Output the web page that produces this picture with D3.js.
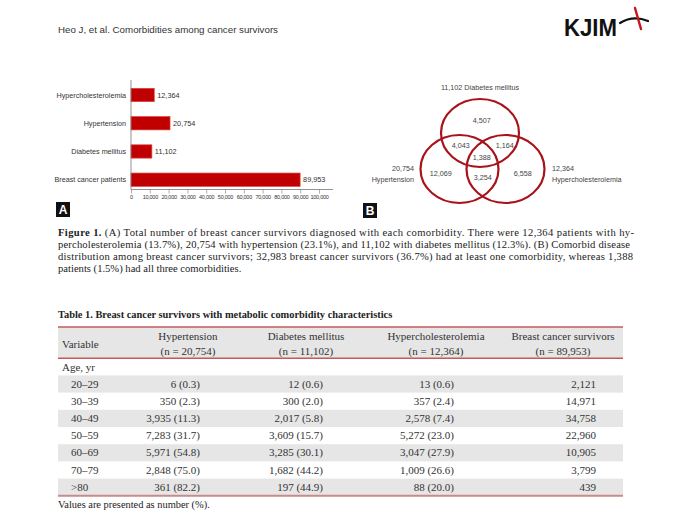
<!DOCTYPE html>
<html><head><meta charset="utf-8">
<script src="https://cdn.jsdelivr.net/npm/d3@7"></script>
<style>body{margin:0;background:#fff}svg{display:block}</style>
</head><body>
<svg id="c" width="680" height="520"></svg>
<script>
// ---------- data ----------
const headerText = "Heo J, et al. Comorbidities among cancer survivors";
const barCategories = ["Hypercholesterolemia", "Hypertension", "Diabetes mellitus", "Breast cancer patients"];
const barValues = [12364, 20754, 11102, 89953];
const xTickValues = [0, 10000, 20000, 30000, 40000, 50000, 60000, 70000, 80000, 90000, 100000];

const vennSetNames = ["Diabetes mellitus", "Hypertension", "Hypercholesterolemia"];
const vennSetTotals = [11102, 20754, 12364];
const vennRegionKeys = ["D", "DH", "DC", "DHC", "H", "HC", "C"];
const vennRegionValues = [4507, 4043, 1164, 1388, 12069, 3254, 6558];

const captionLines = [
  "(A) Total number of breast cancer survivors diagnosed with each comorbidity. There were 12,364 patients with hy-",
  "percholesterolemia (13.7%), 20,754 with hypertension (23.1%), and 11,102 with diabetes mellitus (12.3%). (B) Comorbid disease",
  "distribution among breast cancer survivors; 32,983 breast cancer survivors (36.7%) had at least one comorbidity, whereas 1,388",
  "patients (1.5%) had all three comorbidities."
];

const tableTitle = "Table 1. Breast cancer survivors with metabolic comorbidity characteristics";
const tableColumns = ["Variable", "Hypertension", "Diabetes mellitus", "Hypercholesterolemia", "Breast cancer survivors"];
const tableColumnN = ["", "(n = 20,754)", "(n = 11,102)", "(n = 12,364)", "(n = 89,953)"];
const ageGroups = ["20–29", "30–39", "40–49", "50–59", "60–69", "70–79", ">80"];
const hypertensionCol = ["6 (0.3)", "350 (2.3)", "3,935 (11.3)", "7,283 (31.7)", "5,971 (54.8)", "2,848 (75.0)", "361 (82.2)"];
const diabetesCol = ["12 (0.6)", "300 (2.0)", "2,017 (5.8)", "3,609 (15.7)", "3,285 (30.1)", "1,682 (44.2)", "197 (44.9)"];
const cholesterolCol = ["13 (0.6)", "357 (2.4)", "2,578 (7.4)", "5,272 (23.0)", "3,047 (27.9)", "1,009 (26.6)", "88 (20.0)"];
const survivorsCol = ["2,121", "14,971", "34,758", "22,960", "10,905", "3,799", "439"];
const tableNote = "Values are presented as number (%).";

// ---------- drawing ----------
const svg = d3.select("#c");
const SANS = "'Liberation Sans', Arial, sans-serif";
const SERIF = "'Liberation Serif', 'Times New Roman', serif";
const fmt = d3.format(",");

// header
svg.append("text").attr("x", 58).attr("y", 33).attr("font-family", SANS).attr("font-size", 9.5)
  .attr("fill", "#333").attr("textLength", 220).attr("lengthAdjust", "spacingAndGlyphs").text(headerText);
svg.append("text").attr("x", 564).attr("y", 36).attr("font-family", SANS).attr("font-weight", "bold")
  .attr("font-size", 23).attr("fill", "#111").attr("textLength", 53).attr("lengthAdjust", "spacingAndGlyphs").text("KJIM");
svg.append("path").attr("d", "M620,23 Q633,15 648,21").attr("fill", "none").attr("stroke", "#111").attr("stroke-width", 2.2).attr("stroke-linecap", "round");
svg.append("path").attr("d", "M635,8 L641,29").attr("fill", "none").attr("stroke", "#c4161c").attr("stroke-width", 2.4).attr("stroke-linecap", "round");

// ---- bar chart (A) ----
const x = d3.scaleLinear().domain([0, 100000]).range([131, 319]);
const y = d3.scalePoint().domain(barCategories).range([95, 179.7]);
const barH = 13.3;
const gA = svg.append("g");
gA.selectAll("rect.bar").data(barCategories).join("rect").attr("class", "bar")
  .attr("x", x(0)).attr("y", d => y(d) - barH / 2)
  .attr("width", (d, i) => x(barValues[i]) - x(0)).attr("height", barH)
  .attr("fill", "#c00000").attr("stroke", "#dd4040").attr("stroke-width", 0.7);
gA.selectAll("text.val").data(barCategories).join("text").attr("class", "val")
  .attr("x", (d, i) => x(barValues[i]) + 3).attr("y", d => y(d) + 2.5)
  .attr("font-family", SANS).attr("font-size", 7.3).attr("fill", "#333")
  .text((d, i) => fmt(barValues[i]));
gA.selectAll("text.cat").data(barCategories).join("text").attr("class", "cat")
  .attr("x", 126).attr("y", d => y(d) + 2.5).attr("text-anchor", "end")
  .attr("font-family", SANS).attr("font-size", 7.2).attr("fill", "#333").text(d => d);
// axes
gA.append("line").attr("x1", 131).attr("x2", 131).attr("y1", 80).attr("y2", 189.5).attr("stroke", "#777").attr("stroke-width", 0.8);
const xAxis = d3.axisBottom(x).tickValues(xTickValues).tickSize(4).tickSizeOuter(0).tickFormat(d3.format(","));
const ax = gA.append("g").attr("transform", "translate(0,189.5)").call(xAxis);
ax.select(".domain").attr("d", "M131,0H333").attr("stroke", "#777").attr("stroke-width", 0.8);
ax.selectAll(".tick line").attr("stroke", "#777").attr("stroke-width", 0.6);
ax.selectAll(".tick text").attr("font-family", SANS).attr("font-size", 5.5).attr("fill", "#333")
  .attr("letter-spacing", -0.25).attr("dy", "0.5em");
// A box
svg.append("rect").attr("x", 56).attr("y", 202).attr("width", 14).attr("height", 15).attr("fill", "#111");
svg.append("text").attr("x", 63).attr("y", 214).attr("text-anchor", "middle").attr("font-family", SANS)
  .attr("font-weight", "bold").attr("font-size", 12).attr("fill", "#fff").text("A");

// ---- Venn (B) ----
const vennCenters = [[480, 133], [459.5, 169], [505.5, 169]];
const rx = 39, ry = 34;
const gB = svg.append("g");
gB.selectAll("ellipse").data(vennSetNames).join("ellipse")
  .attr("cx", (d, i) => vennCenters[i][0]).attr("cy", (d, i) => vennCenters[i][1])
  .attr("rx", rx).attr("ry", ry).attr("fill", "none").attr("stroke", "#a8121a").attr("stroke-width", 2.2);
const cx0 = (vennCenters[0][0] + vennCenters[1][0] + vennCenters[2][0]) / 3;
const cy0 = (vennCenters[0][1] + vennCenters[1][1] + vennCenters[2][1]) / 3;
const regionOffsets = { D: [0, -37], DH: [-21, -11.5], DC: [23, -11.5], DHC: [0, 0], H: [-41, 16], HC: [1, 20], C: [41, 16] };
gB.selectAll("text.reg").data(vennRegionKeys).join("text").attr("class", "reg")
  .attr("x", d => cx0 + regionOffsets[d][0]).attr("y", d => cy0 + regionOffsets[d][1] + 2.5)
  .attr("text-anchor", "middle").attr("font-family", SANS).attr("font-size", 7.2).attr("fill", "#444")
  .text((d, i) => fmt(vennRegionValues[i]));
gB.append("text").attr("x", vennCenters[0][0]).attr("y", 89.5).attr("text-anchor", "middle")
  .attr("font-family", SANS).attr("font-size", 7.2).attr("fill", "#444")
  .text(fmt(vennSetTotals[0]) + " " + vennSetNames[0]);
const hl = gB.append("text").attr("text-anchor", "end").attr("font-family", SANS).attr("font-size", 7.2).attr("fill", "#444");
hl.append("tspan").attr("x", 414).attr("y", 170.5).text(fmt(vennSetTotals[1]));
hl.append("tspan").attr("x", 414).attr("y", 181.5).text(vennSetNames[1]);
const cl = gB.append("text").attr("text-anchor", "start").attr("font-family", SANS).attr("font-size", 7.2).attr("fill", "#444");
cl.append("tspan").attr("x", 552).attr("y", 170.5).text(fmt(vennSetTotals[2]));
cl.append("tspan").attr("x", 552).attr("y", 181.5).text(vennSetNames[2]);
svg.append("rect").attr("x", 363).attr("y", 203).attr("width", 14).attr("height", 15).attr("fill", "#111");
svg.append("text").attr("x", 370).attr("y", 215).attr("text-anchor", "middle").attr("font-family", SANS)
  .attr("font-weight", "bold").attr("font-size", 12).attr("fill", "#fff").text("B");

// ---- caption ----
const capY = [235.5, 247.5, 259.5, 271.5];
const capW = [576, 572, 575, null];
captionLines.forEach((line, i) => {
  const t = svg.append("text").attr("x", 58).attr("y", capY[i]).attr("font-family", SERIF)
    .attr("font-size", 10.6).attr("fill", "#222");
  if (capW[i]) t.attr("textLength", capW[i]).attr("lengthAdjust", "spacing");
  if (i === 0) t.append("tspan").attr("font-weight", "bold").text("Figure 1. ");
  t.append("tspan").text(line);
});

// ---- table ----
const tL = 58, tR = 623;
svg.append("text").attr("x", tL).attr("y", 318).attr("font-family", SERIF).attr("font-weight", "bold")
  .attr("font-size", 10.4).attr("fill", "#222").text(tableTitle);
const headTop = 327, headBot = 358.3, ageBot = 375.4, rowH = 17.2;
const rowY = d3.scaleBand().domain(ageGroups).range([ageBot, ageBot + rowH * ageGroups.length]);
const tb = svg.append("g");
tb.append("rect").attr("x", tL).attr("y", headTop).attr("width", tR - tL).attr("height", headBot - headTop).attr("fill", "#e6e6e6");
tb.selectAll("rect.row").data(ageGroups.filter((d, i) => i % 2 === 0)).join("rect").attr("class", "row")
  .attr("x", tL).attr("y", d => rowY(d)).attr("width", tR - tL).attr("height", rowY.bandwidth()).attr("fill", "#e6e6e6");
const lineCol = "#c45a5c";
[headTop, headBot].forEach(yy => tb.append("line").attr("x1", tL).attr("x2", tR).attr("y1", yy).attr("y2", yy)
  .attr("stroke", lineCol).attr("stroke-width", 1.6));
tb.append("line").attr("x1", tL).attr("x2", tR).attr("y1", rowY.range()[1]).attr("y2", rowY.range()[1])
  .attr("stroke", "#c98a8a").attr("stroke-width", 2);

const colCenters = [null, 188, 306, 436, 563];
const colRights = [null, 200, 323, 454, 596];
const fs = 11;
tb.append("text").attr("x", 62).attr("y", 347.5).attr("font-family", SERIF).attr("font-size", fs).attr("fill", "#333").text(tableColumns[0]);
tableColumns.slice(1).forEach((c, j) => {
  const t = tb.append("text").attr("text-anchor", "middle").attr("font-family", SERIF).attr("font-size", fs).attr("fill", "#333");
  t.append("tspan").attr("x", colCenters[j + 1]).attr("y", 340).text(c);
  t.append("tspan").attr("x", colCenters[j + 1]).attr("y", 355).text(tableColumnN[j + 1]);
});
tb.append("text").attr("x", 62).attr("y", 370.5).attr("font-family", SERIF).attr("font-size", fs).attr("fill", "#333").text("Age, yr");
const cols = [hypertensionCol, diabetesCol, cholesterolCol, survivorsCol];
tb.selectAll("text.age").data(ageGroups).join("text").attr("class", "age")
  .attr("x", 71).attr("y", d => rowY(d) + rowY.bandwidth() / 2 + 3.6)
  .attr("font-family", SERIF).attr("font-size", fs).attr("fill", "#333").text(d => d);
cols.forEach((col, j) => {
  tb.selectAll("text.c" + j).data(col).join("text").attr("class", "c" + j)
    .attr("x", colRights[j + 1]).attr("y", (d, i) => rowY(ageGroups[i]) + rowY.bandwidth() / 2 + 3.6)
    .attr("text-anchor", "end").attr("font-family", SERIF).attr("font-size", fs).attr("fill", "#333").text(d => d);
});
svg.append("text").attr("x", tL).attr("y", 507.5).attr("font-family", SERIF).attr("font-size", 10.4).attr("fill", "#222").text(tableNote);
</script>
</body></html>
